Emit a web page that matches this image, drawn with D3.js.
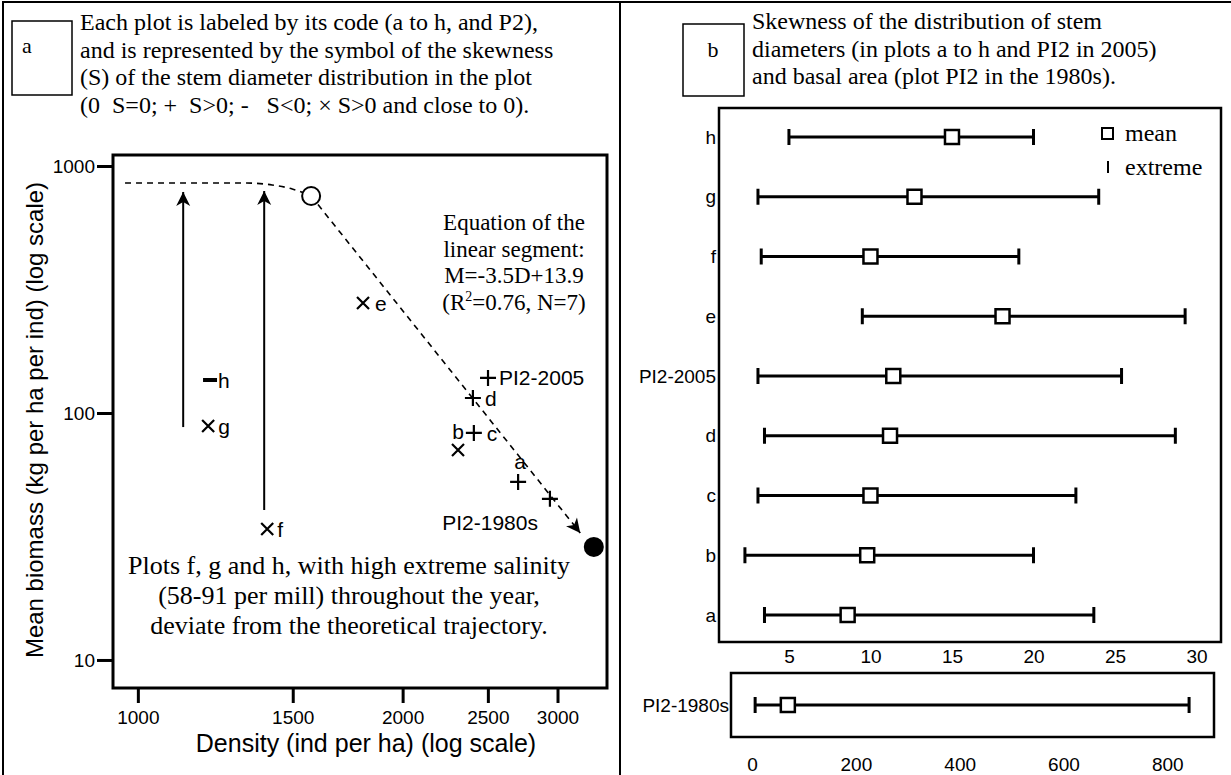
<!DOCTYPE html>
<html lang="en">
<head>
<meta charset="utf-8">
<title>Biomass, density and skewness of stem diameters</title>
<script src="https://d3js.org/d3.v7.min.js"></script>
<style>
  body { margin: 0; background: #fff; }
  .serif { font-family: "Liberation Serif", "Times New Roman", serif; }
  .sans { font-family: "Liberation Sans", Arial, sans-serif; }
</style>
</head>
<body>
<div id="chart"></div>
<script>
// ---- panel a : mean biomass vs density (log-log) ----
var plotLabels   = ["e", "PI2-2005", "d", "c", "b", "a", "PI2-1980s", "h", "g", "f"];
var plotDensity  = [1803, 2501, 2404, 2410, 2312, 2706, 2941, 1208, 1202, 1403];
var plotBiomass  = [279, 138.6, 115, 83, 70.8, 52.6, 44.9, 136, 88.6, 33.9];
var plotSymbol   = ["x", "+", "+", "+", "x", "+", "+", "-", "x", "x"];

var startPoint = [1574, 756];   // open circle
var endPoint   = [3299, 28.7];  // filled circle
var plateau    = [[967, 853], [1330, 853], [1421, 838], [1498, 807], [1574, 756]];
var arrowTip   = [3184, 32.7];

var arrowDensity = [1126, 1392];
var arrowFrom    = [87.7, 40.5];
var arrowTo      = [785, 792];

var densityTicks = [1000, 1500, 2000, 2500, 3000];
var biomassTicks = [10, 100, 1000];

// ---- panel b : skewness ----
var skewPlots = ["h", "g", "f", "e", "PI2-2005", "d", "c", "b", "a"];
var skewMin   = [5.0, 3.1, 3.3, 9.5, 3.1, 3.5, 3.1, 2.3, 3.5];
var skewMean  = [15.0, 12.7, 10.0, 18.1, 11.4, 11.2, 10.0, 9.8, 8.6];
var skewMax   = [20.0, 24.0, 19.1, 29.3, 25.4, 28.7, 22.6, 20.0, 23.7];
var skewTicks = [5, 10, 15, 20, 25, 30];

var basalPlot  = ["PI2-1980s"];
var basalMin   = [6];
var basalMean  = [69];
var basalMax   = [842];
var basalTicks = [0, 200, 400, 600, 800];

var W = 1231, H = 775;
var svg = d3.select("#chart").append("svg")
    .attr("width", W).attr("height", H);

// outer frame
svg.append("path")
    .attr("d", "M3,775 V2 H1231 M620,2 V775")
    .attr("fill", "none").attr("stroke", "#000").attr("stroke-width", 2);

var defs = svg.append("defs");
defs.append("marker")
    .attr("id", "arrow")
    .attr("markerUnits", "userSpaceOnUse")
    .attr("viewBox", "-15 -8 16 16")
    .attr("markerWidth", 16).attr("markerHeight", 16)
    .attr("refX", 0).attr("refY", 0)
    .attr("orient", "auto")
  .append("path")
    .attr("d", "M0,0 L-14,-7 L-10,0 L-14,7 Z")
    .attr("fill", "#000");

// ================= panel a =================
var x = d3.scaleLog().domain([937, 3415]).range([113, 607]);
var y = d3.scaleLog().domain([7.7, 1108]).range([688, 155]);

// header
svg.append("rect").attr("x", 12).attr("y", 21).attr("width", 60).attr("height", 74)
    .attr("fill", "none").attr("stroke", "#000").attr("stroke-width", 1.5);
svg.append("text").attr("class", "serif").attr("x", 27).attr("y", 53)
    .attr("text-anchor", "middle").attr("font-size", 22).text("a");

var headA = ["Each plot is labeled by its code (a to h, and P2),",
             "and is represented by the symbol of the skewness",
             "(S) of the stem diameter distribution in the plot",
             "(0  S=0; +  S>0; -   S<0; \u00d7 S>0 and close to 0)."];
svg.append("g").selectAll("text").data(headA).join("text")
    .attr("class", "serif")
    .attr("x", 80)
    .attr("y", function(d, i) { return 30 + i * 27.5; })
    .attr("font-size", 24)
    .style("white-space", "pre")
    .text(function(d) { return d; });

// axes
var gx = svg.append("g").attr("transform", "translate(0,688)")
    .call(d3.axisBottom(x).tickValues(densityTicks).tickFormat(d3.format("d"))
          .tickSize(15).tickPadding(8));
var gy = svg.append("g").attr("transform", "translate(113,0)")
    .call(d3.axisLeft(y).tickValues(biomassTicks).tickFormat(d3.format("d"))
          .tickSize(16).tickPadding(2));
[gx, gy].forEach(function(g) {
  g.select(".domain").remove();
  g.selectAll("line").attr("stroke-width", 3);
  g.selectAll("text").attr("class", "sans").attr("font-size", 19).attr("fill", "#000");
});

svg.append("rect").attr("x", 113).attr("y", 155).attr("width", 494).attr("height", 533)
    .attr("fill", "none").attr("stroke", "#000").attr("stroke-width", 3);

svg.append("text").attr("class", "sans").attr("x", 366).attr("y", 752)
    .attr("text-anchor", "middle").attr("font-size", 25)
    .text("Density (ind per ha) (log scale)");
svg.append("text").attr("class", "sans")
    .attr("transform", "translate(43,420) rotate(-90)")
    .attr("text-anchor", "middle").attr("font-size", 24)
    .text("Mean biomass (kg per ha per ind) (log scale)");

// theoretical trajectory
var line = d3.line().x(function(d) { return x(d[0]); }).y(function(d) { return y(d[1]); });
svg.append("path").datum(plateau)
    .attr("d", line.curve(d3.curveMonotoneX))
    .attr("fill", "none").attr("stroke", "#000").attr("stroke-width", 1.6)
    .attr("stroke-dasharray", "6,5");
svg.append("path").datum([startPoint, arrowTip])
    .attr("d", d3.line().x(function(d) { return x(d[0]); }).y(function(d) { return y(d[1]); }))
    .attr("fill", "none").attr("stroke", "#000").attr("stroke-width", 1.6)
    .attr("stroke-dasharray", "6,5")
    .attr("marker-end", "url(#arrow)");

// vertical arrows for f, g, h
svg.append("g").selectAll("line").data(arrowDensity).join("line")
    .attr("x1", function(d) { return x(d); })
    .attr("x2", function(d) { return x(d); })
    .attr("y1", function(d, i) { return y(arrowFrom[i]); })
    .attr("y2", function(d, i) { return y(arrowTo[i]); })
    .attr("stroke", "#000").attr("stroke-width", 2)
    .attr("marker-end", "url(#arrow)");

svg.append("circle").attr("cx", x(startPoint[0])).attr("cy", y(startPoint[1])).attr("r", 9)
    .attr("fill", "#fff").attr("stroke", "#000").attr("stroke-width", 2);
svg.append("circle").attr("cx", x(endPoint[0])).attr("cy", y(endPoint[1])).attr("r", 10)
    .attr("fill", "#000");

// plot symbols
function symbolPath(s) {
  if (s === "+") return "M-8,0 H8 M0,-8 V8";
  if (s === "x") return "M-6,-6 L6,6 M-6,6 L6,-6";
  return "M-7,0 H7";
}
var labelPos = {
  "e":         { dx: 12,  dy: 8,   anchor: "start" },
  "PI2-2005":  { dx: 11,  dy: 7,   anchor: "start" },
  "d":         { dx: 12,  dy: 8,   anchor: "start" },
  "c":         { dx: 13,  dy: 8,   anchor: "start" },
  "b":         { dx: 0,   dy: -11, anchor: "middle" },
  "a":         { dx: 2,   dy: -13, anchor: "middle" },
  "PI2-1980s": { dx: -12, dy: 31,  anchor: "end" },
  "h":         { dx: 8,   dy: 8,   anchor: "start" },
  "g":         { dx: 10,  dy: 8,   anchor: "start" },
  "f":         { dx: 10,  dy: 8,   anchor: "start" }
};
var pts = svg.append("g").selectAll("g").data(plotLabels).join("g")
    .attr("transform", function(d, i) {
      return "translate(" + x(plotDensity[i]) + "," + y(plotBiomass[i]) + ")";
    });
pts.append("path")
    .attr("d", function(d, i) { return symbolPath(plotSymbol[i]); })
    .attr("stroke", "#000")
    .attr("stroke-width", function(d, i) { return plotSymbol[i] === "-" ? 4 : 2.2; });
pts.append("text")
    .attr("class", "sans").attr("font-size", 21)
    .attr("x", function(d) { return labelPos[d].dx; })
    .attr("y", function(d) { return labelPos[d].dy; })
    .attr("text-anchor", function(d) { return labelPos[d].anchor; })
    .text(function(d) { return d; });

// equation
var eq = svg.append("g").attr("class", "serif").attr("font-size", 23).attr("text-anchor", "middle");
["Equation of the", "linear segment:", "M=-3.5D+13.9"].forEach(function(t, i) {
  eq.append("text").attr("x", 514).attr("y", 230 + i * 26.5).text(t);
});
var r2 = eq.append("text").attr("x", 514).attr("y", 309.5);
r2.append("tspan").text("(R");
r2.append("tspan").attr("font-size", 14).attr("dy", -9).text("2");
r2.append("tspan").attr("dy", 9).text("=0.76, N=7)");

// note
var note = ["Plots f, g and h, with high extreme salinity",
            "(58-91 per mill) throughout the year,",
            "deviate from the theoretical trajectory."];
svg.append("g").selectAll("text").data(note).join("text")
    .attr("class", "serif").attr("font-size", 26).attr("text-anchor", "middle")
    .attr("x", 349)
    .attr("y", function(d, i) { return 574 + i * 30; })
    .text(function(d) { return d; });

// ================= panel b =================
svg.append("rect").attr("x", 683).attr("y", 24).attr("width", 61).attr("height", 72)
    .attr("fill", "none").attr("stroke", "#000").attr("stroke-width", 1.5);
svg.append("text").attr("class", "serif").attr("x", 713).attr("y", 57)
    .attr("text-anchor", "middle").attr("font-size", 22).text("b");

var headB = ["Skewness of the distribution of stem",
             "diameters (in plots a to h and PI2 in 2005)",
             "and basal area (plot PI2 in the 1980s)."];
svg.append("g").selectAll("text").data(headB).join("text")
    .attr("class", "serif")
    .attr("x", 752)
    .attr("y", function(d, i) { return 29 + i * 27.5; })
    .attr("font-size", 24)
    .text(function(d) { return d; });

var sx = d3.scaleLinear().domain([0.71, 31.5]).range([719, 1221]);
var sy = d3.scalePoint().domain(skewPlots).range([137, 615]);

svg.append("rect").attr("x", 719).attr("y", 108).attr("width", 502).attr("height", 534)
    .attr("fill", "none").attr("stroke", "#000").attr("stroke-width", 2.5);

var gsx = svg.append("g").attr("transform", "translate(0,642)")
    .call(d3.axisBottom(sx).tickValues(skewTicks).tickSize(0).tickPadding(8));
var gsy = svg.append("g").attr("transform", "translate(719,0)")
    .call(d3.axisLeft(sy).tickSize(0).tickPadding(3));

function errorBars(g, scaleX, scaleY, cats, lo, mid, hi) {
  var row = g.selectAll("g.row").data(cats).join("g").attr("class", "row")
      .attr("transform", function(d) { return "translate(0," + scaleY(d) + ")"; });
  row.append("line")
      .attr("x1", function(d, i) { return scaleX(lo[i]); })
      .attr("x2", function(d, i) { return scaleX(hi[i]); })
      .attr("stroke", "#000").attr("stroke-width", 3);
  row.append("path")
      .attr("d", function(d, i) {
        return "M" + scaleX(lo[i]) + ",-8 V8 M" + scaleX(hi[i]) + ",-8 V8";
      })
      .attr("stroke", "#000").attr("stroke-width", 3);
  row.append("rect")
      .attr("x", function(d, i) { return scaleX(mid[i]) - 7; })
      .attr("y", -7).attr("width", 14).attr("height", 14)
      .attr("fill", "#fff").attr("stroke", "#000").attr("stroke-width", 2.5);
}
errorBars(svg.append("g"), sx, sy, skewPlots, skewMin, skewMean, skewMax);

// legend
svg.append("rect").attr("x", 1102).attr("y", 128).attr("width", 11).attr("height", 11)
    .attr("fill", "#fff").attr("stroke", "#000").attr("stroke-width", 2);
svg.append("line").attr("x1", 1108).attr("x2", 1108).attr("y1", 161).attr("y2", 173)
    .attr("stroke", "#000").attr("stroke-width", 2);
svg.append("text").attr("class", "serif").attr("font-size", 24).attr("x", 1125).attr("y", 141).text("mean");
svg.append("text").attr("class", "serif").attr("font-size", 24).attr("x", 1125).attr("y", 175).text("extreme");

// basal area PI2-1980s
var bx = d3.scaleLinear().domain([-40.5, 890]).range([731, 1214]);
var by = d3.scalePoint().domain(basalPlot).range([705, 705]);
svg.append("rect").attr("x", 731).attr("y", 673).attr("width", 483).attr("height", 64)
    .attr("fill", "none").attr("stroke", "#000").attr("stroke-width", 2.5);
var gbx = svg.append("g").attr("transform", "translate(0,737)")
    .call(d3.axisBottom(bx).tickValues(basalTicks).tickSize(0).tickPadding(21));
var gby = svg.append("g").attr("transform", "translate(731,0)")
    .call(d3.axisLeft(by).tickSize(0).tickPadding(2));
errorBars(svg.append("g"), bx, by, basalPlot, basalMin, basalMean, basalMax);

[gsx, gsy, gbx, gby].forEach(function(g) {
  g.select(".domain").remove();
  g.selectAll("text").attr("class", "sans").attr("font-size", 19).attr("fill", "#000");
});
</script>
</body>
</html>
